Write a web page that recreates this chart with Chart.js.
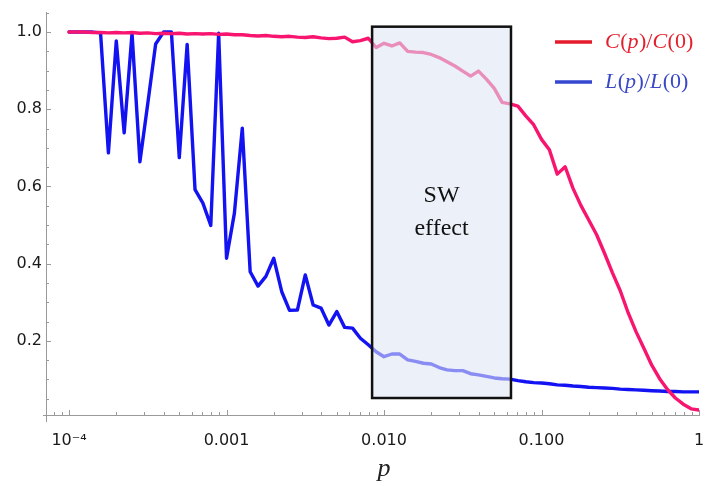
<!DOCTYPE html>
<html><head><meta charset="utf-8">
<script src="https://cdn.jsdelivr.net/npm/chart.js@4.4.0/dist/chart.umd.min.js"></script>
<style>html,body{margin:0;padding:0;background:#fff}#wrap{width:706px;height:486px}</style>
</head><body><div id="wrap"><canvas id="c" width="706" height="486"></canvas></div>
<script>
// p values (log-spaced sample points)
const pValues = [
  1.000e-4,1.122e-4,1.259e-4,1.413e-4,1.585e-4,1.778e-4,1.995e-4,2.239e-4,2.512e-4,2.818e-4,
  3.162e-4,3.548e-4,3.981e-4,4.467e-4,5.012e-4,5.623e-4,6.310e-4,7.079e-4,7.943e-4,8.913e-4,
  1.000e-3,1.122e-3,1.259e-3,1.413e-3,1.585e-3,1.778e-3,1.995e-3,2.239e-3,2.512e-3,2.818e-3,
  3.162e-3,3.548e-3,3.981e-3,4.467e-3,5.012e-3,5.623e-3,6.310e-3,7.079e-3,7.943e-3,8.913e-3,
  1.000e-2,1.122e-2,1.259e-2,1.413e-2,1.585e-2,1.778e-2,1.995e-2,2.239e-2,2.512e-2,2.818e-2,
  3.162e-2,3.548e-2,3.981e-2,4.467e-2,5.012e-2,5.623e-2,6.310e-2,7.079e-2,7.943e-2,8.913e-2,
  1.000e-1,1.122e-1,1.259e-1,1.413e-1,1.585e-1,1.778e-1,1.995e-1,2.239e-1,2.512e-1,2.818e-1,
  3.162e-1,3.548e-1,3.981e-1,4.467e-1,5.012e-1,5.623e-1,6.310e-1,7.079e-1,7.943e-1,8.913e-1,
  1.000
];
// C(p)/C(0)
const cRatio = [
  1.000,1.000,1.000,0.999,0.999,0.998,0.999,0.998,0.999,0.997,
  0.998,0.996,0.997,0.996,0.997,0.995,0.996,0.995,0.996,0.994,
  0.995,0.993,0.993,0.991,0.990,0.991,0.989,0.988,0.989,0.987,
  0.986,0.988,0.985,0.983,0.984,0.987,0.975,0.978,0.984,0.960,
  0.971,0.964,0.972,0.950,0.948,0.947,0.942,0.934,0.923,0.912,
  0.899,0.886,0.899,0.878,0.854,0.818,0.814,0.808,0.783,0.760,
  0.722,0.695,0.632,0.651,0.595,0.551,0.513,0.475,0.427,0.377,
  0.330,0.273,0.224,0.181,0.137,0.102,0.074,0.052,0.036,0.024,
  0.021
];
// L(p)/L(0)
const lRatio = [
  1.000,1.000,1.000,1.000,0.998,0.687,0.977,0.739,0.997,0.664,
  0.815,0.969,1.000,1.000,0.675,0.968,0.592,0.557,0.499,0.997,
  0.414,0.531,0.751,0.379,0.342,0.367,0.414,0.328,0.279,0.280,
  0.371,0.293,0.285,0.241,0.276,0.235,0.233,0.207,0.190,0.172,
  0.159,0.166,0.166,0.151,0.147,0.142,0.140,0.131,0.125,0.123,
  0.123,0.115,0.112,0.108,0.104,0.102,0.101,0.097,0.094,0.092,
  0.091,0.089,0.086,0.085,0.083,0.082,0.080,0.079,0.078,0.077,
  0.075,0.074,0.073,0.072,0.071,0.070,0.069,0.069,0.068,0.068,
  0.068
];
const xTickValues = [1e-4, 1e-3, 1e-2, 1e-1, 1];
const xTickLabels = ['10\u207B\u2074', '0.001', '0.010', '0.100', '1'];
const yTickValues = [0.2, 0.4, 0.6, 0.8, 1.0];
const yTickLabels = ['0.2', '0.4', '0.6', '0.8', '1.0'];
const seriesNames = ['C(p)/C(0)', 'L(p)/L(0)'];
const xAxisTitle = 'p';
const swBox = { pMin: 0.0084, pMax: 0.064, yMin: 0.052, yMax: 1.014 };
const swText = ['SW', 'effect'];

const AXIS_COLOR = '#9a9a9a';
const PINK = '#f8156f';
const BLUE = '#1212f2';

const inwardTicks = {
  id: 'inwardTicks',
  afterDraw(chart) {
    const ctx = chart.ctx, xs = chart.scales.x, ys = chart.scales.y, a = chart.chartArea;
    ctx.save();
    ctx.strokeStyle = AXIS_COLOR; ctx.lineWidth = 1;
    ctx.beginPath();
    // small overhangs where the axes cross
    ctx.moveTo(a.left - 3, Math.round(a.bottom) + 0.5); ctx.lineTo(a.left, Math.round(a.bottom) + 0.5);
    ctx.moveTo(Math.round(a.left) + 0.5, a.bottom); ctx.lineTo(Math.round(a.left) + 0.5, a.bottom + 7);
    for (let i = 1; i <= 21; i++) {
      const v = i * 0.05;
      if (v < ys.min || v > ys.max + 1e-9) continue;
      const py = Math.round(ys.getPixelForValue(v)) + 0.5;
      const len = (i % 4 === 0) ? 5 : 3;
      ctx.moveTo(a.left, py); ctx.lineTo(a.left + len, py);
    }
    for (let d = -5; d <= 0; d++) {
      for (let m = 1; m <= 9; m++) {
        const v = m * Math.pow(10, d);
        if (v < xs.min || v > xs.max * 1.0001) continue;
        const px = Math.round(xs.getPixelForValue(v)) + 0.5;
        const len = (m === 1) ? 5 : 3;
        ctx.moveTo(px, a.bottom); ctx.lineTo(px, a.bottom - len);
      }
    }
    ctx.stroke();
    // x-axis title, placed under the 0.010 region as in the original figure
    ctx.fillStyle = '#222';
    ctx.font = 'italic 26px "Liberation Serif", "Times New Roman", serif';
    ctx.textAlign = 'center'; ctx.textBaseline = 'alphabetic';
    ctx.fillText(xAxisTitle, xs.getPixelForValue(1e-2), 476);
    ctx.restore();
  }
};

const swBoxPlugin = {
  id: 'swBox',
  afterDatasetsDraw(chart) {
    const ctx = chart.ctx, xs = chart.scales.x, ys = chart.scales.y;
    const l = xs.getPixelForValue(swBox.pMin), r = xs.getPixelForValue(swBox.pMax);
    const t = ys.getPixelForValue(swBox.yMax), b = ys.getPixelForValue(swBox.yMin);
    ctx.save();
    ctx.fillStyle = 'rgba(222,230,243,0.58)';
    ctx.fillRect(l, t, r - l, b - t);
    ctx.strokeStyle = '#111'; ctx.lineWidth = 2.5;
    ctx.strokeRect(l, t, r - l, b - t);
    ctx.fillStyle = '#111';
    ctx.font = '24px "Liberation Serif", "Times New Roman", serif';
    ctx.textAlign = 'center'; ctx.textBaseline = 'middle';
    const cx = (l + r) / 2, cy = (t + b) / 2;
    ctx.fillText(swText[0], cx, cy - 17);
    ctx.fillText(swText[1], cx, cy + 16);
    ctx.restore();
  }
};

function drawMath(ctx, text, x, y, color) {
  // italic letters, upright punctuation/digits
  let cx = x;
  for (const ch of text) {
    const italic = /[A-Za-z]/.test(ch);
    ctx.font = (italic ? 'italic ' : '') + '22px "Liberation Serif", "Times New Roman", serif';
    ctx.fillStyle = color;
    ctx.fillText(ch, cx, y);
    cx += ctx.measureText(ch).width + (italic ? 0.5 : 0);
  }
}

const legendPlugin = {
  id: 'customLegend',
  afterDraw(chart) {
    const ctx = chart.ctx;
    ctx.save();
    ctx.lineWidth = 3.5; ctx.lineCap = 'butt';
    ctx.strokeStyle = '#e41b2a';
    ctx.beginPath(); ctx.moveTo(555, 42); ctx.lineTo(592, 42); ctx.stroke();
    ctx.strokeStyle = '#3546d0';
    ctx.beginPath(); ctx.moveTo(555, 82); ctx.lineTo(592, 82); ctx.stroke();
    ctx.textBaseline = 'middle'; ctx.textAlign = 'left';
    drawMath(ctx, seriesNames[0], 605, 42, '#e4202c');
    drawMath(ctx, seriesNames[1], 605, 82, '#3a48c8');
    ctx.restore();
  }
};

const tickFont = { family: '"DejaVu Sans", sans-serif', size: 16 };

new Chart(document.getElementById('c'), {
  type: 'line',
  data: {
    datasets: [
      { label: seriesNames[0], data: pValues.map((p, i) => ({ x: p, y: cRatio[i] })),
        borderColor: PINK, borderWidth: 3.4, order: 0 },
      { label: seriesNames[1], data: pValues.map((p, i) => ({ x: p, y: lRatio[i] })),
        borderColor: BLUE, borderWidth: 3.4, order: 1 }
    ]
  },
  options: {
    responsive: false, animation: false, devicePixelRatio: 1,
    layout: { padding: { top: 12, right: 7, left: 0, bottom: 0 } },
    plugins: { legend: { display: false }, tooltip: { enabled: false } },
    elements: { point: { radius: 0 }, line: { tension: 0, borderJoinStyle: 'round', borderCapStyle: 'round' } },
    scales: {
      x: {
        type: 'logarithmic', min: 7.14e-5, max: 1, bounds: 'data',
        afterBuildTicks(s) { s.ticks = xTickValues.map(v => ({ value: v })); },
        afterFit(s) { s.height = 71; s.paddingLeft = 0; s.paddingRight = 0; },
        grid: { display: false, drawTicks: false },
        border: { display: true, color: AXIS_COLOR, width: 1 },
        ticks: { padding: 16, maxRotation: 0, autoSkip: false, font: tickFont, color: '#1a1a1a',
          callback: (v, i) => xTickLabels[i] },
        title: { display: false, text: xAxisTitle }
      },
      y: {
        type: 'linear', min: 0.008, max: 1.052, bounds: 'data',
        afterBuildTicks(s) { s.ticks = yTickValues.map(v => ({ value: v })); },
        afterFit(s) { s.width = 46; s.paddingTop = 0; s.paddingBottom = 0; },
        grid: { display: false, drawTicks: false },
        border: { display: true, color: AXIS_COLOR, width: 1 },
        ticks: { padding: 4, font: tickFont, color: '#1a1a1a', callback: (v, i) => yTickLabels[i] }
      }
    }
  },
  plugins: [swBoxPlugin, inwardTicks, legendPlugin]
});
</script>
</body></html>
